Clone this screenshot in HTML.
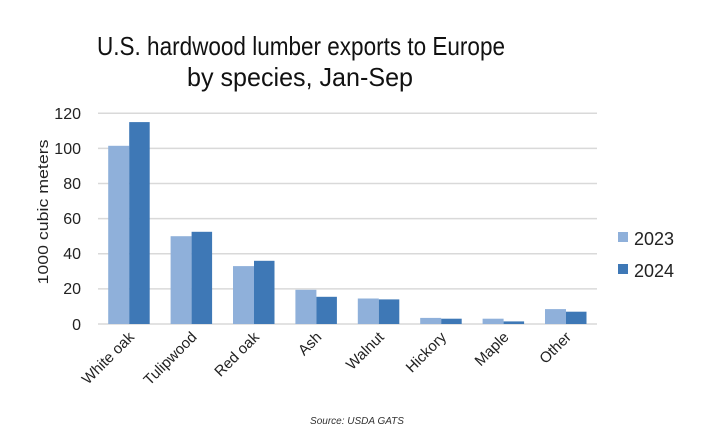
<!DOCTYPE html>
<html><head><style>body{margin:0;background:#fff}</style></head><body>
<svg width="715" height="436" xmlns="http://www.w3.org/2000/svg" font-family="Liberation Sans, sans-serif">
<rect width="715" height="436" fill="#fff"/>
<text x="301" y="55" font-size="26" text-anchor="middle" fill="#111" textLength="408" lengthAdjust="spacingAndGlyphs">U.S. hardwood lumber exports to Europe</text>
<text x="300" y="86" font-size="26" text-anchor="middle" fill="#111" textLength="226" lengthAdjust="spacingAndGlyphs">by species, Jan-Sep</text>
<g stroke="#d9d9d9" stroke-width="1.5">
<line x1="98" x2="597" y1="113.3" y2="113.3"/><line x1="98" x2="597" y1="148.4" y2="148.4"/>
<line x1="98" x2="597" y1="183.5" y2="183.5"/><line x1="98" x2="597" y1="218.6" y2="218.6"/>
<line x1="98" x2="597" y1="253.8" y2="253.8"/><line x1="98" x2="597" y1="288.9" y2="288.9"/>
<line x1="98" x2="597" y1="324" y2="324"/></g>
<g font-size="16" text-anchor="end" fill="#222">
<text x="81" y="119">120</text><text x="81" y="154">100</text><text x="81" y="189">80</text>
<text x="81" y="224">60</text><text x="81" y="259">40</text><text x="81" y="294">20</text><text x="81" y="330">0</text></g>
<text transform="translate(48,212) rotate(-90)" font-size="15" text-anchor="middle" fill="#222" textLength="145" lengthAdjust="spacingAndGlyphs">1000 cubic meters</text>
<g fill="#8fb0da">
<rect x="108.2" y="145.8" width="21" height="178.2"/>
<rect x="170.6" y="236.2" width="21" height="87.8"/>
<rect x="233" y="266.1" width="21" height="57.9"/>
<rect x="295.4" y="289.8" width="21" height="34.2"/>
<rect x="357.8" y="298.5" width="21" height="25.5"/>
<rect x="420.2" y="317.9" width="21" height="6.1"/>
<rect x="482.6" y="318.7" width="21" height="5.3"/>
<rect x="545" y="309.1" width="21" height="14.9"/>
</g>
<g fill="#3e78b6">
<rect x="129.2" y="122.1" width="20.5" height="201.9"/>
<rect x="191.6" y="231.8" width="20.5" height="92.2"/>
<rect x="254" y="260.8" width="20.5" height="63.2"/>
<rect x="316.4" y="296.8" width="20.5" height="27.2"/>
<rect x="378.8" y="299.4" width="20.5" height="24.6"/>
<rect x="441.2" y="318.7" width="20.5" height="5.3"/>
<rect x="503.6" y="321.4" width="20.5" height="2.6"/>
<rect x="566" y="311.7" width="20.5" height="12.3"/>
</g>
<g font-size="15" text-anchor="end" fill="#222">
<text transform="translate(135,338) rotate(-45)">White oak</text>
<text transform="translate(197.6,338) rotate(-45)">Tulipwood</text>
<text transform="translate(260,338) rotate(-45)">Red oak</text>
<text transform="translate(322.4,338) rotate(-45)">Ash</text>
<text transform="translate(384.8,338) rotate(-45)">Walnut</text>
<text transform="translate(447.2,338) rotate(-45)">Hickory</text>
<text transform="translate(509.6,338) rotate(-45)">Maple</text>
<text transform="translate(572,338) rotate(-45)">Other</text>
</g>
<rect x="618" y="232" width="10" height="10" fill="#8fb0da"/>
<text x="634" y="245" font-size="18" fill="#222">2023</text>
<rect x="618" y="264" width="10" height="10" fill="#3e78b6"/>
<text x="634" y="277" font-size="18" fill="#222">2024</text>
<text x="357" y="424" font-size="10" font-style="italic" text-anchor="middle" fill="#333">Source: USDA GATS</text>
</svg>
</body></html>
